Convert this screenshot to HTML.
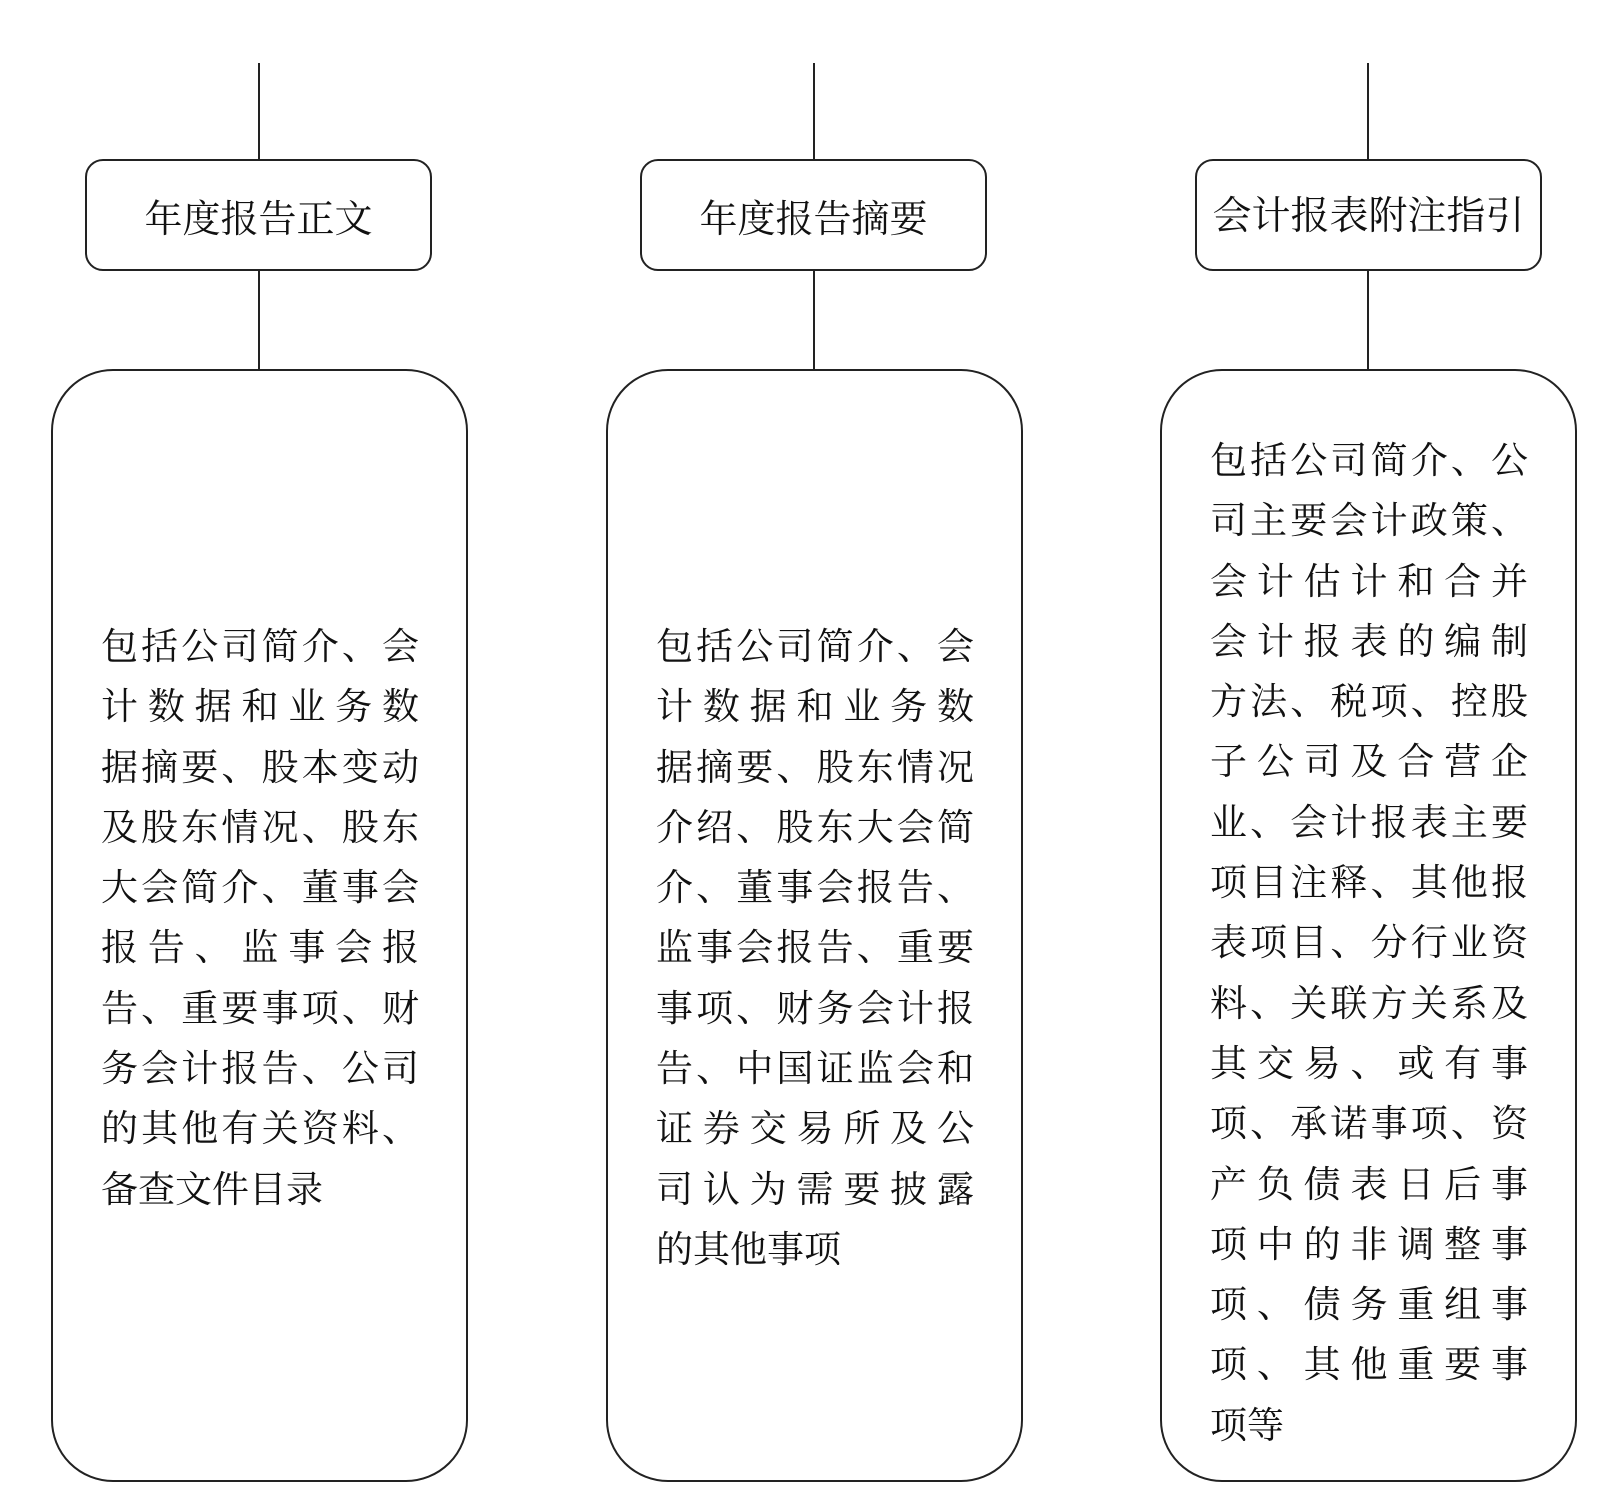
<!DOCTYPE html>
<html><head><meta charset="utf-8"><style>
body{margin:0;width:1612px;height:1508px;background:#fff;position:relative;overflow:hidden;font-family:"Liberation Serif","Noto Serif CJK SC",serif;color:#111}
.v{position:absolute;width:2px;background:#222}
.t{position:absolute;border:2.5px solid #222;border-radius:18px;box-sizing:border-box;height:112px;top:159px;width:347px;display:flex;align-items:center;justify-content:center;font-size:38px}
.b{position:absolute;border:2.5px solid #222;border-radius:62px;box-sizing:border-box;top:369px;height:1113px;width:417px}
.tx{position:absolute;width:318px;font-size:37px;line-height:60.3px}
.tx div{text-align:justify;text-align-last:justify;height:60.3px;white-space:nowrap}
.tx div.l{text-align-last:left}
</style></head><body>
<div class="v" style="left:258px;top:63px;height:96px"></div>
<div class="v" style="left:258px;top:271px;height:98px"></div>
<div class="v" style="left:813px;top:63px;height:96px"></div>
<div class="v" style="left:813px;top:271px;height:98px"></div>
<div class="v" style="left:1367px;top:63px;height:96px"></div>
<div class="v" style="left:1367px;top:271px;height:98px"></div>

<div class="t" style="left:85px">年度报告正文</div>
<div class="t" style="left:640px">年度报告摘要</div>
<div class="t" style="left:1195px;font-size:39px;align-items:flex-start;padding-top:24px">会计报表附注指引</div>

<div class="b" style="left:51px"></div>
<div class="b" style="left:606px"></div>
<div class="b" style="left:1160px"></div>

<div class="tx" style="left:101px;top:618px">
<div>包括公司简介、会</div><div>计数据和业务数</div><div>据摘要、股本变动</div><div>及股东情况、股东</div><div>大会简介、董事会</div><div>报告、监事会报</div><div>告、重要事项、财</div><div>务会计报告、公司</div><div>的其他有关资料、</div><div class="l">备查文件目录</div>
</div>
<div class="tx" style="left:656px;top:618px">
<div>包括公司简介、会</div><div>计数据和业务数</div><div>据摘要、股东情况</div><div>介绍、股东大会简</div><div>介、董事会报告、</div><div>监事会报告、重要</div><div>事项、财务会计报</div><div>告、中国证监会和</div><div>证券交易所及公</div><div>司认为需要披露</div><div class="l">的其他事项</div>
</div>
<div class="tx" style="left:1210px;top:432px">
<div>包括公司简介、公</div><div>司主要会计政策、</div><div>会计估计和合并</div><div>会计报表的编制</div><div>方法、税项、控股</div><div>子公司及合营企</div><div>业、会计报表主要</div><div>项目注释、其他报</div><div>表项目、分行业资</div><div>料、关联方关系及</div><div>其交易、或有事</div><div>项、承诺事项、资</div><div>产负债表日后事</div><div>项中的非调整事</div><div>项、债务重组事</div><div>项、其他重要事</div><div class="l">项等</div>
</div>
</body></html>
